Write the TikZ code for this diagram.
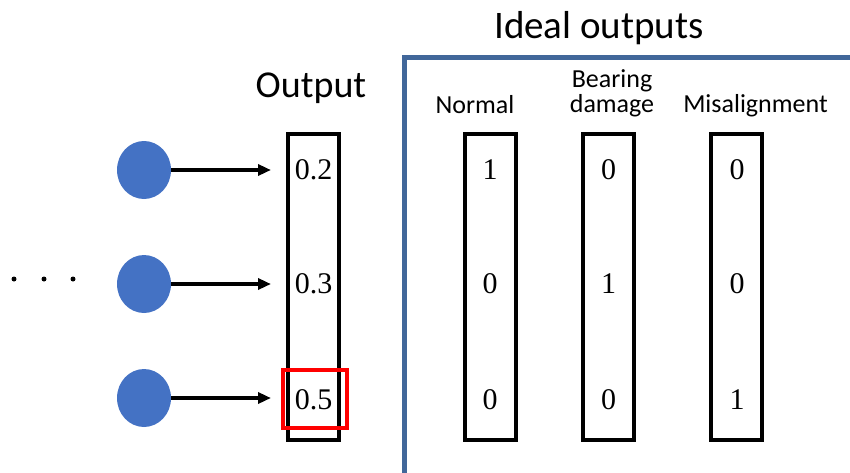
\documentclass[tikz,border=0pt]{standalone}
\usepackage{fontspec}
\setmainfont{Liberation Serif}
\newfontfamily\calfont{Carlito}
\usetikzlibrary{arrows.meta,shapes.geometric}
\definecolor{nodeblue}{HTML}{4472C4}
\definecolor{frameblue}{HTML}{41679A}
\definecolor{markred}{HTML}{FF0000}
\begin{document}
\begin{tikzpicture}[x=1pt,y=-1pt,
  neuron/.style={ellipse,fill=nodeblue,draw=none,minimum width=54pt,minimum height=58pt,inner sep=0pt},
  vecbox/.style={draw=black,line width=4pt,minimum width=51pt,minimum height=306pt,inner sep=0pt},
  val/.style={font=\fontsize{30}{30}\selectfont,anchor=base,inner sep=0pt},
  lab/.style={font=\calfont\fontsize{26}{25}\selectfont,anchor=base,inner sep=0pt,align=center},
  conn/.style={line width=3.5pt,-{Triangle[length=13pt,width=11pt]},shorten >=15pt},
  dotmark/.style={circle,fill=black,inner sep=0pt,minimum size=5pt},
  frame/.style={draw=frameblue,line width=5.5pt},
  highlight/.style={draw=markred,line width=4pt,minimum width=64pt,minimum height=58pt,inner sep=0pt}
]
\useasboundingbox (0,0) rectangle (850,472);

% neurons
\node[neuron] (c1) at (144,170) {};
\node[neuron] (c2) at (144,284) {};
\node[neuron] (c3) at (144,398) {};

% dots
\node[dotmark] (d1) at (14,279) {};
\node[dotmark] (d2) at (44,279) {};
\node[dotmark] (d3) at (73,279) {};

% output box
\node[vecbox] (out) at (313.5,286.5) {};
\node[val] (o1) at (313.5,179) {0.2};
\node[val] (o2) at (313.5,293) {0.3};
\node[val] (o3) at (313.5,409) {0.5};
\node[highlight] (red) at (314.5,398.5) {};
\node[font=\calfont\fontsize{38}{38}\selectfont,anchor=base,inner sep=0pt] (outlab) at (311,97) {Output};

% connectors
\draw[conn] (c1.east) -- (c1.east -| out.west);
\draw[conn] (c2.east) -- (c2.east -| out.west);
\draw[conn] (c3.east) -- (c3.east -| out.west);

% ideal outputs frame
\draw[frame] (404.5,475) -- (404.5,57.5) -- (853,57.5);
\node[font=\calfont\fontsize{39}{39}\selectfont,anchor=base,inner sep=0pt] (ideal) at (599,38) {Ideal outputs};

% ideal vectors
\node[vecbox] (n) at (490,286.5) {};
\node[vecbox] (b) at (608.5,286.5) {};
\node[vecbox] (m) at (736,286.5) {};

\node[lab] (nl) at (475,113) {Normal};
\node[lab] (bl) at (612,112) {Bearing\\damage};
\node[lab] (ml) at (755.5,112) {Misalignment};

\node[val] (n1) at (490,179) {1};
\node[val] (n2) at (490,293) {0};
\node[val] (n3) at (490,409) {0};
\node[val] (b1) at (608.5,179) {0};
\node[val] (b2) at (608.5,293) {1};
\node[val] (b3) at (608.5,409) {0};
\node[val] (m1) at (737,179) {0};
\node[val] (m2) at (737,293) {0};
\node[val] (m3) at (737,409) {1};
\end{tikzpicture}
\end{document}
